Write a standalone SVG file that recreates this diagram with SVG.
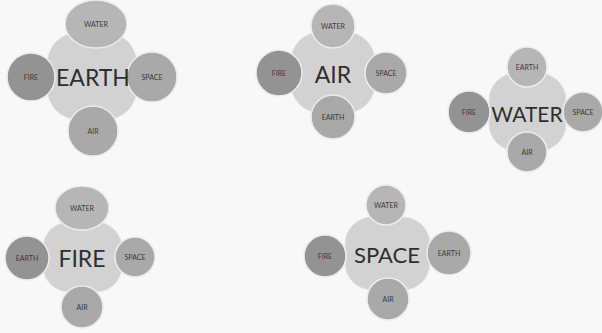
<svg xmlns="http://www.w3.org/2000/svg" width="602" height="333" viewBox="0 0 602 333">
<style>
.hub{fill:#d2d2d2;stroke:#e6e6e6;stroke-width:1}
.sat{fill:#a9a9a9;stroke:#ececec;stroke-width:1.5}
.dark{fill:#939393}
.light{fill:#b6b6b6}
.big{font-family:Lato,"Liberation Sans",sans-serif;fill:#2f2f2f;text-anchor:middle;dominant-baseline:central}
.sm{font-family:Lato,"Liberation Sans",sans-serif;font-size:7px;fill:#3a3a3a;text-anchor:middle;dominant-baseline:central}
</style>
<rect width="602" height="333" fill="#f8f8f8"/>
<g id="connectors"/>
<!-- EARTH cluster -->
<g id="earth-cluster">
<rect class="hub" x="47" y="32" width="90" height="88" rx="32"/>
<g id="earth-water"><ellipse class="sat light" cx="96" cy="24" rx="31" ry="24"/><text class="sm" x="96" y="24">WATER</text></g>
<g id="earth-fire"><circle class="sat dark" cx="31" cy="77" r="24"/><text class="sm" x="31" y="77">FIRE</text></g>
<g id="earth-space"><circle class="sat" cx="152" cy="77" r="25"/><text class="sm" x="152" y="77">SPACE</text></g>
<g id="earth-air"><circle class="sat" cx="93" cy="131" r="25"/><text class="sm" x="93" y="131">AIR</text></g>
<text class="big" x="93" y="77" font-size="23">EARTH</text>
</g>
<!-- AIR cluster -->
<g id="air-cluster">
<rect class="hub" x="291" y="32" width="84" height="81" rx="29"/>
<g id="air-water"><circle class="sat light" cx="333" cy="26" r="22"/><text class="sm" x="333" y="26">WATER</text></g>
<g id="air-fire"><circle class="sat dark" cx="279" cy="73" r="23"/><text class="sm" x="279" y="73">FIRE</text></g>
<g id="air-space"><circle class="sat" cx="386" cy="73" r="21"/><text class="sm" x="386" y="73">SPACE</text></g>
<g id="air-earth"><circle class="sat" cx="333" cy="117" r="22"/><text class="sm" x="333" y="117">EARTH</text></g>
<text class="big" x="333" y="74" font-size="23">AIR</text>
</g>
<!-- WATER cluster -->
<g id="water-cluster">
<rect class="hub" x="489" y="73" width="77" height="78" rx="27"/>
<g id="water-earth"><circle class="sat light" cx="527" cy="67" r="20"/><text class="sm" x="527" y="67">EARTH</text></g>
<g id="water-fire"><circle class="sat dark" cx="469" cy="112" r="21"/><text class="sm" x="469" y="112">FIRE</text></g>
<g id="water-space"><circle class="sat" cx="583" cy="112" r="20"/><text class="sm" x="583" y="112">SPACE</text></g>
<g id="water-air"><circle class="sat" cx="527" cy="152" r="20"/><text class="sm" x="527" y="152">AIR</text></g>
<text class="big" x="527" y="113" font-size="21">WATER</text>
</g>
<!-- FIRE cluster -->
<g id="fire-cluster">
<rect class="hub" x="43" y="222" width="79" height="70" rx="26"/>
<g id="fire-water"><ellipse class="sat light" cx="82" cy="208" rx="27" ry="22"/><text class="sm" x="82" y="208">WATER</text></g>
<g id="fire-earth"><circle class="sat dark" cx="27" cy="258" r="22"/><text class="sm" x="27" y="258">EARTH</text></g>
<g id="fire-space"><circle class="sat" cx="135" cy="257" r="20"/><text class="sm" x="135" y="257">SPACE</text></g>
<g id="fire-air"><circle class="sat" cx="82" cy="307" r="21"/><text class="sm" x="82" y="307">AIR</text></g>
<text class="big" x="82" y="258" font-size="23">FIRE</text>
</g>
<!-- SPACE cluster -->
<g id="space-cluster">
<rect class="hub" x="345" y="217" width="85" height="73" rx="27"/>
<g id="space-water"><circle class="sat light" cx="386" cy="205" r="20"/><text class="sm" x="386" y="205">WATER</text></g>
<g id="space-fire"><circle class="sat dark" cx="325" cy="256" r="21"/><text class="sm" x="325" y="256">FIRE</text></g>
<g id="space-earth"><circle class="sat" cx="449" cy="253" r="22"/><text class="sm" x="449" y="253">EARTH</text></g>
<g id="space-air"><circle class="sat" cx="388" cy="299" r="21"/><text class="sm" x="388" y="299">AIR</text></g>
<text class="big" x="387" y="254" font-size="22">SPACE</text>
</g>
</svg>
